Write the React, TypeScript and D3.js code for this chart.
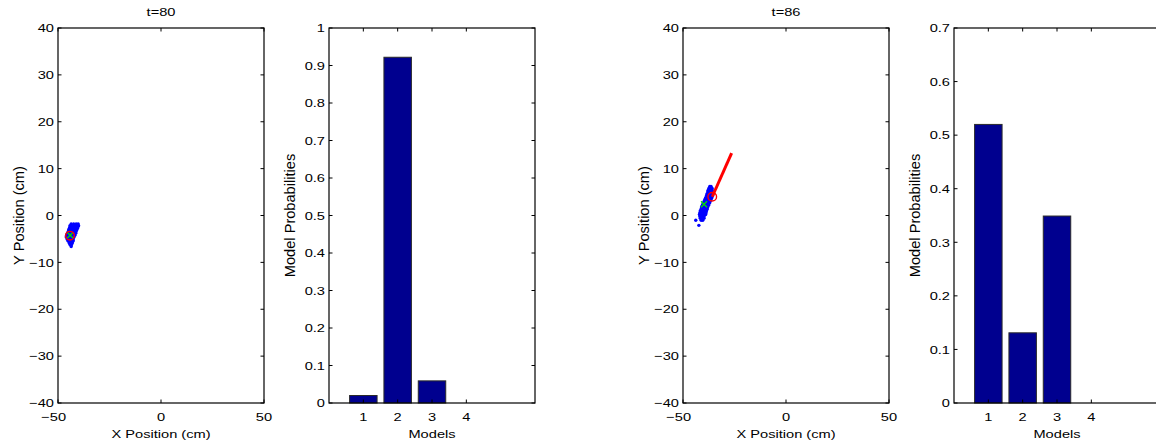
import React from 'react';
import * as d3 from 'd3';

// ---------- data ----------
const panelTitles = ['t=80', 't=86'];
const xTicksScatter = [-50, 0, 50];
const yTicksScatter = [-40, -30, -20, -10, 0, 10, 20, 30, 40];
const models = [1, 2, 3, 4];
const probsT80 = [0.02, 0.922, 0.059, 0];
const probsT86 = [0.52, 0.131, 0.349, 0];
const yTicksProbT80 = [0, 0.1, 0.2, 0.3, 0.4, 0.5, 0.6, 0.7, 0.8, 0.9, 1];
const yTicksProbT86 = [0, 0.1, 0.2, 0.3, 0.4, 0.5, 0.6, 0.7];

// particle cloud rows: [y, x values...]
const particleRowsT80: number[][] = [
  [-1.8, -43.6, -42.4, -41.2, -40.2],
  [-2.2, -44.2, -43.2, -42.0, -41.0, -40.0],
  [-2.6, -44.4, -43.4, -42.4, -41.4, -40.4],
  [-3.0, -44.8, -43.8, -42.8, -41.8, -40.8],
  [-3.4, -45.0, -44.0, -43.0, -42.0, -41.2],
  [-3.8, -45.4, -44.4, -43.4, -42.4, -41.4],
  [-4.2, -45.8, -44.8, -43.8, -42.8, -41.8],
  [-4.6, -46.0, -45.0, -44.0, -43.0, -42.2],
  [-5.0, -45.6, -44.6, -43.6, -42.6],
  [-5.4, -45.2, -44.2, -43.2, -42.6],
  [-5.8, -44.6, -43.8, -43.0],
  [-6.2, -44.2, -43.4],
  [-6.6, -43.6],
];
const particleRowsT86: number[][] = [
  [6.2, -37.0, -36.4],
  [5.8, -37.4, -36.6, -35.9],
  [5.4, -37.8, -36.8, -35.8],
  [5.0, -38.0, -37.0, -36.0],
  [4.6, -38.4, -37.4, -36.4, -35.5],
  [4.2, -38.6, -37.6, -36.6, -35.6],
  [3.8, -39.0, -38.0, -37.0, -36.0],
  [3.4, -39.4, -38.4, -37.4, -36.4],
  [3.0, -39.8, -38.8, -37.8, -36.8],
  [2.6, -40.2, -39.2, -38.2, -37.2],
  [2.2, -40.6, -39.6, -38.6, -37.6],
  [1.8, -41.0, -40.0, -39.0, -38.0],
  [1.4, -41.2, -40.2, -39.2, -38.2],
  [1.0, -41.6, -40.6, -39.6, -38.6],
  [0.6, -41.8, -40.8, -39.8, -38.8],
  [0.2, -42.0, -41.0, -40.0, -39.0],
  [-0.2, -41.8, -40.8, -39.8],
  [-0.6, -41.6, -40.6, -39.8],
  [-1.0, -41.2, -40.4],
  [-1.0, -43.8],
  [-2.1, -42.3],
];
const estimateT80: [number, number] = [-44.2, -4.3];
const truthT80: [number, number] = [-44.1, -4.2];
const estimateT86: [number, number] = [-35.8, 4.0];
const truthT86: [number, number] = [-39.8, 2.4];
const headingT80: [number, number][] = [];
const headingT86: [number, number][] = [[-35.8, 4.0], [-26.4, 13.3]];

// ---------- layout ----------
const W = 1156, H = 444;
const TOP = 28, BOTTOM = 403;
const FONT = '"Liberation Sans", Arial, Helvetica, sans-serif';
const FS = 11.7;
const SX = 1.25;
const TICK = 3.5;

function Txt({ x, y, anchor = 'middle', rotate = false, children, dy }: any) {
  return (
    <text
      transform={rotate ? `translate(${x},${y}) rotate(-90)` : `translate(${x},${y}) scale(${SX},1)`}
      textAnchor={anchor}
      dy={dy}
      fontFamily={FONT}
      fontSize={rotate ? FS * SX : FS}
      fill="#000"
    >
      {children}
    </text>
  );
}

const fmt = (v: number) => (v < 0 ? '\u2212' + String(Math.abs(v)) : String(v));

function Scatter({ x0, x1, title, rows, est, truth, heading }: any) {
  const x = d3.scaleLinear().domain([-50, 50]).range([x0, x1]);
  const y = d3.scaleLinear().domain([-40, 40]).range([BOTTOM, TOP]);
  const pts: [number, number][] = [];
  rows.forEach((r: number[]) => r.slice(1).forEach((xv) => pts.push([xv, r[0]])));
  const line = d3.line<[number, number]>().x((d) => x(d[0])).y((d) => y(d[1]));
  const cx = (x0 + x1) / 2;
  const tx = x(truth[0]), ty = y(truth[1]);
  return (
    <g>
      {pts.map((p, i) => (
        <circle key={i} cx={x(p[0])} cy={y(p[1])} r={1.7} fill="#0000ff" />
      ))}
      <path d={`M${tx - 3},${ty - 3}L${tx + 3},${ty + 3}M${tx - 3},${ty + 3}L${tx + 3},${ty - 3}`} stroke="#00e000" strokeWidth={1.3} />
      <circle cx={x(est[0])} cy={y(est[1])} r={4.3} fill="none" stroke="#ff0000" strokeWidth={1.4} />
      {heading.length > 1 && <path d={line(heading) as string} stroke="#ff0000" strokeWidth={3} fill="none" />}
      <rect x={x0} y={TOP} width={x1 - x0} height={BOTTOM - TOP} fill="none" stroke="#000" strokeWidth={1.2} />
      {xTicksScatter.map((t) => (
        <g key={'xt' + t}>
          <line x1={x(t)} x2={x(t)} y1={BOTTOM} y2={BOTTOM - TICK} stroke="#000" />
          <line x1={x(t)} x2={x(t)} y1={TOP} y2={TOP + TICK} stroke="#000" />
          {t < 0 ? (
            <Txt x={x(t) + 8.1} y={420.5} anchor="end">{fmt(t)}</Txt>
          ) : (
            <Txt x={x(t)} y={420.5}>{fmt(t)}</Txt>
          )}
        </g>
      ))}
      {yTicksScatter.map((t) => (
        <g key={'yt' + t}>
          <line x1={x0} x2={x0 + TICK} y1={y(t)} y2={y(t)} stroke="#000" />
          <line x1={x1} x2={x1 - TICK} y1={y(t)} y2={y(t)} stroke="#000" />
          <Txt x={x0 - 4} y={y(t)} anchor="end" dy="0.36em">{fmt(t)}</Txt>
        </g>
      ))}
      <Txt x={cx} y={16}>{title}</Txt>
      <Txt x={cx} y={437.5}>X Position (cm)</Txt>
      <Txt x={x0 - 34} y={(TOP + BOTTOM) / 2} rotate>Y Position (cm)</Txt>
    </g>
  );
}

function Bars({ x0, probs, yTicks, yMax }: any) {
  const x = d3.scaleLinear().domain([0, 6]).range([x0, x0 + 206]);
  const y = d3.scaleLinear().domain([0, yMax]).range([BOTTOM, TOP]);
  const x1 = x(6);
  const bw = x(0.8) - x(0);
  const cx = (x0 + x(6)) / 2;
  return (
    <g>
      {models.map((m, i) => (
        <rect key={m} x={x(m) - bw / 2} y={y(probs[i])} width={bw} height={BOTTOM - y(probs[i])} fill="#00008f" stroke="#2a2a2a" strokeWidth={1} />
      ))}
      <rect x={x0} y={TOP} width={x1 - x0} height={BOTTOM - TOP} fill="none" stroke="#000" strokeWidth={1.2} />
      {models.map((m) => (
        <g key={'xt' + m}>
          <line x1={x(m)} x2={x(m)} y1={BOTTOM} y2={BOTTOM - TICK} stroke="#000" />
          <line x1={x(m)} x2={x(m)} y1={TOP} y2={TOP + TICK} stroke="#000" />
          <Txt x={x(m)} y={420.5}>{String(m)}</Txt>
        </g>
      ))}
      {yTicks.map((t: number) => (
        <g key={'yt' + t}>
          <line x1={x0} x2={x0 + TICK} y1={y(t)} y2={y(t)} stroke="#000" />
          <line x1={x1} x2={x1 - TICK} y1={y(t)} y2={y(t)} stroke="#000" />
          <Txt x={x0 - 4} y={y(t)} anchor="end" dy="0.36em">{String(t)}</Txt>
        </g>
      ))}
      <Txt x={cx} y={437.5}>Models</Txt>
      <Txt x={x0 - 34} y={(TOP + BOTTOM) / 2} rotate>Model Probabilities</Txt>
    </g>
  );
}

export default function App() {
  return (
    <svg width={W} height={H} style={{ position: 'absolute', left: 0, top: 0, background: '#fff' }}>
      <rect width={W} height={H} fill="#fff" />
      <Scatter x0={58} x1={264} title={panelTitles[0]} rows={particleRowsT80} est={estimateT80} truth={truthT80} heading={headingT80} />
      <Bars x0={329} probs={probsT80} yTicks={yTicksProbT80} yMax={1} />
      <Scatter x0={683} x1={889} title={panelTitles[1]} rows={particleRowsT86} est={estimateT86} truth={truthT86} heading={headingT86} />
      <Bars x0={954} probs={probsT86} yTicks={yTicksProbT86} yMax={0.7} />
    </svg>
  );
}
